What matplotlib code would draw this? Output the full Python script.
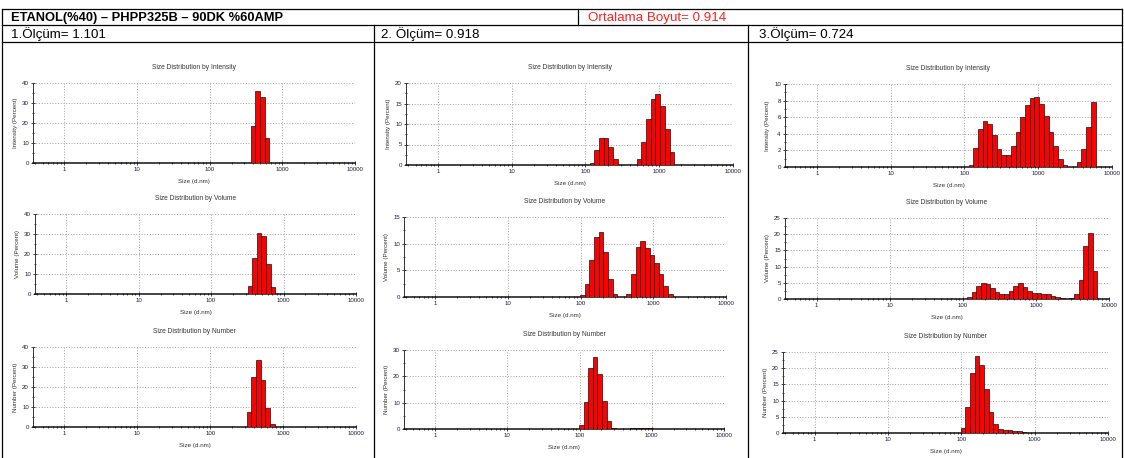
import numpy as np
import matplotlib
matplotlib.use("Agg")
import matplotlib.pyplot as plt
from matplotlib.ticker import MultipleLocator, LogLocator, NullFormatter

# instrument size classes (d.nm) that carry data
size_classes = [91.28, 105.7, 122.4, 141.8, 164.2, 190.1, 220.2, 255.0, 295.3,
                342.0, 396.1, 458.7, 531.2, 615.1, 712.4, 825.0, 955.4, 1106,
                1281, 1484, 1718, 1990, 2305, 2669, 3091, 3580, 4145, 4801,
                5560, 6439, 7456]

x_ticks = [1, 10, 100, 1000, 10000]
x_tick_labels = ["1", "10", "100", "1000", "10000"]

# 1. measurement
int_1_start = 396.1
int_1 = [18.3, 36.2, 33.2, 12.4]
vol_1_start = 342.0
vol_1 = [4.2, 17.8, 30.7, 29.0, 15.0, 3.6]
num_1_start = 342.0
num_1 = [7.7, 25.0, 33.6, 23.4, 9.3, 1.7]

# 2. measurement
int_2_start = 122.4
int_2 = [0.4, 3.6, 6.5, 6.6, 4.3, 1.5, 0, 0, 0, 0,
         1.4, 5.6, 11.3, 16.0, 17.2, 14.3, 8.7, 3.1]
vol_2_start = 105.7
vol_2 = [0.3, 2.4, 6.9, 11.3, 12.1, 8.5, 3.4, 0.6, 0, 0,
         0.6, 4.4, 9.3, 10.5, 9.1, 7.9, 6.3, 4.4, 2.0, 0.5]
num_2_start = 105.7
num_2 = [1.5, 10.3, 23.0, 27.5, 21.0, 10.5, 3.2, 0.5, 0, 0, 0,
         0.2, 0.4, 0.5, 0.4, 0.2]

# 3. measurement
int_3_start = 122.4
int_3 = [0.3, 2.3, 4.6, 5.6, 5.2, 3.8, 2.2, 1.4, 1.5, 2.5, 4.2, 6.0, 7.5,
         8.3, 8.4, 7.6, 6.1, 4.2, 2.5, 1.0, 0.2, 0, 0, 0.6, 2.2, 4.8, 7.8]
vol_3_start = 122.4
vol_3 = [0.7, 2.2, 3.9, 4.9, 4.6, 3.3, 2.1, 1.5, 1.5, 2.4, 4.0, 4.8, 3.8,
         2.5, 1.9, 1.7, 1.6, 1.4, 0.9, 0.5, 0.2, 0, 0.2, 1.6, 5.9, 16.5,
         20.4, 8.5]
num_3_start = 105.7
num_3 = [1.4, 8.1, 18.6, 23.8, 21.1, 13.7, 6.5, 2.8, 1.2, 0.9, 0.8, 0.7,
         0.5, 0.3, 0.1]

header_left = "ETANOL(%40) – PHPP325B – 90DK %60AMP"
header_right = "Ortalama Boyut= 0.914"
col_titles = ["1.Ölçüm= 1.101", "2. Ölçüm= 0.918", "3.Ölçüm= 0.724"]

W, H = 1124, 458
fig = plt.figure(figsize=(W / 100, H / 100), dpi=100)

# table frame drawn in pixel coords
bg = fig.add_axes([0, 0, 1, 1])
bg.set_xlim(0, W)
bg.set_ylim(H, 0)
bg.axis("off")
lk = dict(color="black", lw=0.9)
for y in (9, 25, 42):
    bg.plot([2, 1122], [y, y], **lk)
for x in (2, 1122):
    bg.plot([x, x], [9, H], **lk)
bg.plot([578, 578], [9, 25], **lk)
for x in (374, 748):
    bg.plot([x, x], [25, H], **lk)

hfont = dict(family=["Liberation Sans", "DejaVu Sans"], va="center")
bg.text(11, 17.5, header_left, fontweight="bold", fontsize=9.3, **hfont)
bg.text(588, 17.5, header_right, color="#ff2020", fontsize=9.6, **hfont)
for x, t in zip((11, 381, 759), col_titles):
    bg.text(x, 34, t, fontsize=9.6, **hfont)

step = np.log10(size_classes[1] / size_classes[0])


def draw_hist(box, start, values, title, ylab, ymax, major):
    x0, x1, yt, yb = box
    ax = fig.add_axes([x0 / W, 1 - yb / H, (x1 - x0) / W, (yb - yt) / H])
    i0 = int(np.argmin(np.abs(np.array(size_classes) - start)))
    sizes = np.array(size_classes[i0:i0 + len(values)])
    left = sizes * 10 ** (-step / 2)
    right = sizes * 10 ** (step / 2)
    ax.bar(left, values, width=right - left, align="edge",
           color="#ff0000", edgecolor="black", linewidth=0.45, zorder=3)
    ax.set_xscale("log")
    ax.set_xlim(0.37, 10000)
    ax.set_ylim(0, ymax)
    ax.set_xticks(x_ticks)
    ax.set_xticklabels(x_tick_labels)
    ax.xaxis.set_minor_locator(LogLocator(base=10, subs=np.arange(2, 10)))
    ax.xaxis.set_minor_formatter(NullFormatter())
    ax.yaxis.set_major_locator(MultipleLocator(major))
    ax.yaxis.set_minor_locator(MultipleLocator(major / 2))
    ax.grid(True, which="major", linestyle=(0, (1, 1.8)), color="#a0a0a0", lw=0.7)
    ax.set_axisbelow(True)
    for s in ("top", "right"):
        ax.spines[s].set_visible(False)
    ax.spines["left"].set_color("#333333")
    ax.spines["left"].set_linewidth(0.7)
    ax.spines["bottom"].set_color("#111111")
    ax.spines["bottom"].set_linewidth(1.1)
    ax.tick_params(which="both", direction="inout", width=0.6, color="#222222",
                   labelsize=4.4, labelcolor="#1e1e40", pad=1.5)
    ax.tick_params(which="major", length=3)
    ax.tick_params(which="minor", length=2)
    ax.set_title(title, fontsize=4.8, color="#333333", pad=10,
                 family="Liberation Sans")
    ax.set_xlabel("Size (d.nm)", fontsize=4.5, color="#333333", labelpad=5,
                  family="Liberation Sans")
    ax.set_ylabel(ylab, fontsize=4.5, color="#333333", labelpad=3,
                  family="Liberation Sans")
    for lab in ax.get_xticklabels() + ax.get_yticklabels():
        lab.set_family("Liberation Sans")
    return ax


t_int = "Size Distribution by Intensity"
t_vol = "Size Distribution by Volume"
t_num = "Size Distribution by Number"

draw_hist((33, 355, 83, 163), int_1_start, int_1, t_int, "Intensity (Percent)", 40, 10)
draw_hist((35, 356, 214, 294), vol_1_start, vol_1, t_vol, "Volume (Percent)", 40, 10)
draw_hist((33, 356, 347, 427), num_1_start, num_1, t_num, "Number (Percent)", 40, 10)

draw_hist((406, 733, 83, 165), int_2_start, int_2, t_int, "Intensity (Percent)", 20, 5)
draw_hist((404, 726, 217, 297), vol_2_start, vol_2, t_vol, "Volume (Percent)", 15, 5)
draw_hist((404, 724, 350, 429), num_2_start, num_2, t_num, "Number (Percent)", 30, 10)

draw_hist((785, 1112, 84, 167), int_3_start, int_3, t_int, "Intensity (Percent)", 10, 2)
draw_hist((785, 1109, 218, 299), vol_3_start, vol_3, t_vol, "Volume (Percent)", 25, 5)
draw_hist((783, 1108, 352, 433), num_3_start, num_3, t_num, "Number (Percent)", 25, 5)

fig.savefig("out.png", dpi=100, facecolor="white")
